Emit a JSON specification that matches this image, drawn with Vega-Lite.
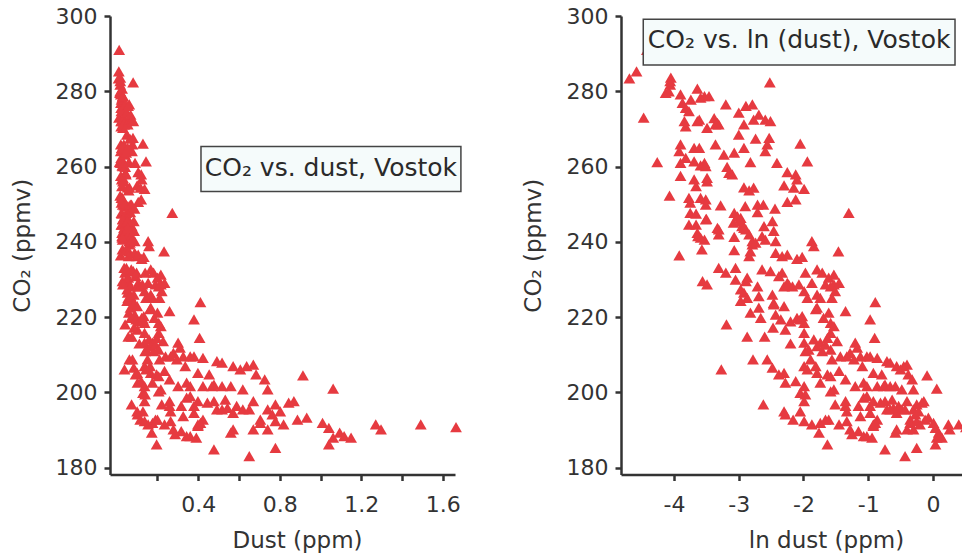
{
  "$schema": "https://vega.github.io/schema/vega-lite/v6.json",
  "background": "white",
  "padding": {"left": 11, "top": 5, "right": 0, "bottom": 0},
  "spacing": 166,
  "bounds": "flush",
  "config": {
    "view": {"stroke": null},
    "font": "DejaVu Sans",
    "axis": {
      "grid": false,
      "domainColor": "#333333", "domainWidth": 2.5,
      "tickColor": "#333333", "tickWidth": 2.5, "tickSize": 6,
      "labelColor": "#333333", "labelFont": "DejaVu Sans", "labelFontSize": 22, "labelPadding": 7,
      "titleColor": "#333333", "titleFont": "DejaVu Sans", "titleFontSize": 23, "titleFontWeight": "normal"
    }
  },
  "datasets": {
    "pts": [
      {"dust":0.0092,"lndust":-4.69,"co2":283.4},{"dust":0.0103,"lndust":-4.58,"co2":285.3},{"dust":0.0114,"lndust":-4.47,"co2":273.0},
      {"dust":0.0141,"lndust":-4.26,"co2":261.2},{"dust":0.0171,"lndust":-4.07,"co2":252.3},{"dust":0.0161,"lndust":-4.13,"co2":279.6},
      {"dust":0.0169,"lndust":-4.08,"co2":280.0},{"dust":0.0173,"lndust":-4.06,"co2":281.8},{"dust":0.0174,"lndust":-4.05,"co2":283.6},
      {"dust":0.0173,"lndust":-4.06,"co2":282.7},{"dust":0.0202,"lndust":-3.90,"co2":279.2},{"dust":0.0209,"lndust":-3.87,"co2":276.9},
      {"dust":0.0219,"lndust":-3.82,"co2":275.6},{"dust":0.0231,"lndust":-3.77,"co2":274.7},{"dust":0.0238,"lndust":-3.74,"co2":277.8},
      {"dust":0.0263,"lndust":-3.64,"co2":280.7},{"dust":0.0276,"lndust":-3.59,"co2":278.3},{"dust":0.0293,"lndust":-3.53,"co2":278.7},
      {"dust":0.0314,"lndust":-3.46,"co2":278.7},{"dust":0.0215,"lndust":-3.84,"co2":272.1},{"dust":0.0219,"lndust":-3.82,"co2":270.7},
      {"dust":0.0263,"lndust":-3.64,"co2":272.1},{"dust":0.0270,"lndust":-3.61,"co2":272.5},{"dust":0.0305,"lndust":-3.49,"co2":270.3},
      {"dust":0.0340,"lndust":-3.38,"co2":272.9},{"dust":0.0347,"lndust":-3.36,"co2":271.2},{"dust":0.0365,"lndust":-3.31,"co2":271.2},
      {"dust":0.0358,"lndust":-3.33,"co2":271.6},{"dust":0.0408,"lndust":-3.20,"co2":276.5},{"dust":0.0498,"lndust":-3.00,"co2":274.3},
      {"dust":0.0539,"lndust":-2.92,"co2":271.2},{"dust":0.0556,"lndust":-2.89,"co2":276.1},{"dust":0.0614,"lndust":-2.79,"co2":276.5},
      {"dust":0.0627,"lndust":-2.77,"co2":272.5},{"dust":0.0679,"lndust":-2.69,"co2":273.8},{"dust":0.0750,"lndust":-2.59,"co2":272.5},
      {"dust":0.0813,"lndust":-2.51,"co2":272.1},{"dust":0.0498,"lndust":-3.00,"co2":268.5},{"dust":0.0805,"lndust":-2.52,"co2":282.4},
      {"dust":0.0646,"lndust":-2.74,"co2":267.4},{"dust":0.0773,"lndust":-2.56,"co2":265.9},{"dust":0.0797,"lndust":-2.53,"co2":267.6},
      {"dust":0.0750,"lndust":-2.59,"co2":264.1},{"dust":0.0202,"lndust":-3.90,"co2":265.9},{"dust":0.0198,"lndust":-3.92,"co2":264.1},
      {"dust":0.0202,"lndust":-3.90,"co2":261.0},{"dust":0.0219,"lndust":-3.82,"co2":262.3},{"dust":0.0250,"lndust":-3.69,"co2":265.0},
      {"dust":0.0270,"lndust":-3.61,"co2":265.0},{"dust":0.0250,"lndust":-3.69,"co2":261.4},{"dust":0.0276,"lndust":-3.59,"co2":260.3},
      {"dust":0.0293,"lndust":-3.53,"co2":261.0},{"dust":0.0299,"lndust":-3.51,"co2":260.1},{"dust":0.0347,"lndust":-3.36,"co2":265.9},
      {"dust":0.0396,"lndust":-3.23,"co2":263.2},{"dust":0.0464,"lndust":-3.07,"co2":263.7},{"dust":0.0539,"lndust":-2.92,"co2":265.0},
      {"dust":0.0596,"lndust":-2.82,"co2":261.2},{"dust":0.0898,"lndust":-2.41,"co2":261.0},{"dust":0.1287,"lndust":-2.05,"co2":266.1},
      {"dust":0.1437,"lndust":-1.94,"co2":261.4},{"dust":0.0416,"lndust":-3.18,"co2":259.9},{"dust":0.0429,"lndust":-3.15,"co2":258.3},
      {"dust":0.0450,"lndust":-3.10,"co2":257.9},{"dust":0.0202,"lndust":-3.90,"co2":257.5},{"dust":0.0250,"lndust":-3.69,"co2":256.6},
      {"dust":0.0257,"lndust":-3.66,"co2":254.8},{"dust":0.0305,"lndust":-3.49,"co2":257.0},{"dust":0.0305,"lndust":-3.49,"co2":256.1},
      {"dust":0.0539,"lndust":-2.92,"co2":254.5},{"dust":0.0584,"lndust":-2.84,"co2":253.7},{"dust":0.0627,"lndust":-2.77,"co2":254.4},
      {"dust":0.1003,"lndust":-2.30,"co2":255.0},{"dust":0.1054,"lndust":-2.25,"co2":258.5},{"dust":0.1200,"lndust":-2.12,"co2":257.9},
      {"dust":0.1225,"lndust":-2.10,"co2":256.6},{"dust":0.1165,"lndust":-2.15,"co2":254.4},{"dust":0.1367,"lndust":-1.99,"co2":254.1},
      {"dust":0.1054,"lndust":-2.25,"co2":250.6},{"dust":0.1200,"lndust":-2.12,"co2":251.3},{"dust":0.0231,"lndust":-3.77,"co2":251.7},
      {"dust":0.0235,"lndust":-3.75,"co2":250.4},{"dust":0.0276,"lndust":-3.59,"co2":251.7},{"dust":0.0299,"lndust":-3.51,"co2":251.3},
      {"dust":0.0299,"lndust":-3.51,"co2":249.9},{"dust":0.0376,"lndust":-3.28,"co2":249.7},{"dust":0.0550,"lndust":-2.90,"co2":249.5},
      {"dust":0.0665,"lndust":-2.71,"co2":249.9},{"dust":0.0728,"lndust":-2.62,"co2":249.9},{"dust":0.0665,"lndust":-2.71,"co2":247.9},
      {"dust":0.0872,"lndust":-2.44,"co2":248.8},{"dust":0.0235,"lndust":-3.75,"co2":247.7},{"dust":0.0257,"lndust":-3.66,"co2":247.5},
      {"dust":0.0302,"lndust":-3.50,"co2":246.1},{"dust":0.0464,"lndust":-3.07,"co2":247.7},{"dust":0.0488,"lndust":-3.02,"co2":246.8},
      {"dust":0.0513,"lndust":-2.97,"co2":246.4},{"dust":0.2725,"lndust":-1.30,"co2":247.7},
      {"dust":0.0231,"lndust":-3.77,"co2":244.6},{"dust":0.0257,"lndust":-3.66,"co2":244.6},{"dust":0.0263,"lndust":-3.64,"co2":242.4},
      {"dust":0.0265,"lndust":-3.63,"co2":241.5},{"dust":0.0293,"lndust":-3.53,"co2":240.6},{"dust":0.0365,"lndust":-3.31,"co2":243.3},
      {"dust":0.0358,"lndust":-3.33,"co2":243.7},{"dust":0.0365,"lndust":-3.31,"co2":242.0},{"dust":0.0460,"lndust":-3.08,"co2":245.1},
      {"dust":0.0464,"lndust":-3.07,"co2":241.3},{"dust":0.0523,"lndust":-2.95,"co2":244.2},{"dust":0.0556,"lndust":-2.89,"co2":243.3},
      {"dust":0.0584,"lndust":-2.84,"co2":242.0},{"dust":0.0614,"lndust":-2.79,"co2":240.2},{"dust":0.0614,"lndust":-2.79,"co2":239.3},
      {"dust":0.0646,"lndust":-2.74,"co2":239.8},{"dust":0.0735,"lndust":-2.61,"co2":244.2},{"dust":0.0714,"lndust":-2.64,"co2":241.5},
      {"dust":0.0750,"lndust":-2.59,"co2":240.6},{"dust":0.0837,"lndust":-2.48,"co2":245.5},{"dust":0.0854,"lndust":-2.46,"co2":242.9},
      {"dust":0.0880,"lndust":-2.43,"co2":240.2},{"dust":0.0880,"lndust":-2.43,"co2":237.1},{"dust":0.0973,"lndust":-2.33,"co2":236.2},
      {"dust":0.1054,"lndust":-2.25,"co2":236.6},{"dust":0.1225,"lndust":-2.10,"co2":235.5},{"dust":0.1327,"lndust":-2.02,"co2":236.0},
      {"dust":0.1541,"lndust":-1.87,"co2":240.2},{"dust":0.1588,"lndust":-1.84,"co2":238.9},{"dust":0.2322,"lndust":-1.46,"co2":237.5},
      {"dust":0.0282,"lndust":-3.57,"co2":238.0},{"dust":0.0198,"lndust":-3.92,"co2":236.4},{"dust":0.0464,"lndust":-3.07,"co2":237.8},
      {"dust":0.0596,"lndust":-2.82,"co2":237.5},{"dust":0.0584,"lndust":-2.84,"co2":236.2},{"dust":0.0299,"lndust":-3.51,"co2":246.0},
      {"dust":0.0513,"lndust":-2.97,"co2":245.5},{"dust":0.0539,"lndust":-2.92,"co2":243.7},{"dust":0.0276,"lndust":-3.59,"co2":241.1},
      {"dust":0.0365,"lndust":-3.31,"co2":233.1},{"dust":0.0408,"lndust":-3.20,"co2":231.8},{"dust":0.0474,"lndust":-3.05,"co2":233.1},
      {"dust":0.0474,"lndust":-3.05,"co2":230.0},{"dust":0.0556,"lndust":-2.89,"co2":229.6},{"dust":0.0567,"lndust":-2.87,"co2":230.5},
      {"dust":0.0513,"lndust":-2.97,"co2":227.4},{"dust":0.0539,"lndust":-2.92,"co2":226.5},{"dust":0.0513,"lndust":-2.97,"co2":224.3},
      {"dust":0.0567,"lndust":-2.87,"co2":225.1},{"dust":0.0665,"lndust":-2.71,"co2":228.2},{"dust":0.0679,"lndust":-2.69,"co2":225.6},
      {"dust":0.0714,"lndust":-2.64,"co2":232.7},{"dust":0.0813,"lndust":-2.51,"co2":232.2},{"dust":0.0837,"lndust":-2.48,"co2":226.0},
      {"dust":0.0854,"lndust":-2.46,"co2":223.8},{"dust":0.0926,"lndust":-2.38,"co2":230.9},{"dust":0.0973,"lndust":-2.33,"co2":231.8},
      {"dust":0.1003,"lndust":-2.30,"co2":228.2},{"dust":0.1054,"lndust":-2.25,"co2":229.1},{"dust":0.1075,"lndust":-2.23,"co2":228.7},
      {"dust":0.1142,"lndust":-2.17,"co2":228.2},{"dust":0.1262,"lndust":-2.07,"co2":228.7},{"dust":0.1395,"lndust":-1.97,"co2":231.8},
      {"dust":0.1367,"lndust":-1.99,"co2":226.9},{"dust":0.1437,"lndust":-1.94,"co2":225.1},{"dust":0.1541,"lndust":-1.87,"co2":229.1},
      {"dust":0.1670,"lndust":-1.79,"co2":232.7},{"dust":0.1670,"lndust":-1.79,"co2":226.0},{"dust":0.1755,"lndust":-1.74,"co2":225.1},
      {"dust":0.1809,"lndust":-1.71,"co2":231.8},{"dust":0.1901,"lndust":-1.66,"co2":228.7},{"dust":0.1999,"lndust":-1.61,"co2":230.5},
      {"dust":0.2060,"lndust":-1.58,"co2":228.2},{"dust":0.2165,"lndust":-1.53,"co2":231.3},{"dust":0.2165,"lndust":-1.53,"co2":228.7},
      {"dust":0.2209,"lndust":-1.51,"co2":226.9},{"dust":0.2346,"lndust":-1.45,"co2":229.1},{"dust":0.2101,"lndust":-1.56,"co2":225.1},
      {"dust":0.0284,"lndust":-3.56,"co2":229.6},{"dust":0.0305,"lndust":-3.49,"co2":228.7},
      {"dust":0.0596,"lndust":-2.82,"co2":221.2},{"dust":0.0679,"lndust":-2.69,"co2":222.5},{"dust":0.0699,"lndust":-2.66,"co2":219.8},
      {"dust":0.0854,"lndust":-2.46,"co2":223.4},{"dust":0.0880,"lndust":-2.43,"co2":220.7},{"dust":0.0954,"lndust":-2.35,"co2":219.4},
      {"dust":0.1003,"lndust":-2.30,"co2":222.9},{"dust":0.1023,"lndust":-2.28,"co2":216.7},{"dust":0.1108,"lndust":-2.20,"co2":218.9},
      {"dust":0.1225,"lndust":-2.10,"co2":219.8},{"dust":0.1287,"lndust":-2.05,"co2":219.4},{"dust":0.1327,"lndust":-2.02,"co2":220.3},
      {"dust":0.1367,"lndust":-1.99,"co2":218.5},{"dust":0.1367,"lndust":-1.99,"co2":215.8},{"dust":0.1637,"lndust":-1.81,"co2":222.1},
      {"dust":0.1670,"lndust":-1.79,"co2":222.5},{"dust":0.1845,"lndust":-1.69,"co2":219.8},{"dust":0.1999,"lndust":-1.61,"co2":221.2},
      {"dust":0.2060,"lndust":-1.58,"co2":218.5},{"dust":0.2165,"lndust":-1.53,"co2":217.6},{"dust":0.2060,"lndust":-1.58,"co2":215.8},
      {"dust":0.2592,"lndust":-1.35,"co2":221.6},{"dust":0.3791,"lndust":-0.97,"co2":219.4},{"dust":0.4107,"lndust":-0.89,"co2":224.0},
      {"dust":0.4066,"lndust":-0.90,"co2":214.5},{"dust":0.0412,"lndust":-3.19,"co2":218.1},{"dust":0.0567,"lndust":-2.87,"co2":214.8},
      {"dust":0.0743,"lndust":-2.60,"co2":214.8},{"dust":0.0846,"lndust":-2.47,"co2":217.2},{"dust":0.1108,"lndust":-2.20,"co2":213.0},
      {"dust":0.1367,"lndust":-1.99,"co2":213.2},{"dust":0.1395,"lndust":-1.97,"co2":211.0},{"dust":0.1466,"lndust":-1.92,"co2":211.4},
      {"dust":0.1511,"lndust":-1.89,"co2":208.8},{"dust":0.1588,"lndust":-1.84,"co2":214.1},{"dust":0.1670,"lndust":-1.79,"co2":212.3},
      {"dust":0.1755,"lndust":-1.74,"co2":213.2},{"dust":0.1809,"lndust":-1.71,"co2":211.0},{"dust":0.1901,"lndust":-1.66,"co2":212.7},
      {"dust":0.1959,"lndust":-1.63,"co2":214.5},{"dust":0.2060,"lndust":-1.58,"co2":211.4},{"dust":0.2101,"lndust":-1.56,"co2":208.8},
      {"dust":0.2276,"lndust":-1.48,"co2":213.6},{"dust":0.2393,"lndust":-1.43,"co2":209.6},{"dust":0.2645,"lndust":-1.33,"co2":209.6},
      {"dust":0.2780,"lndust":-1.28,"co2":210.5},{"dust":0.2952,"lndust":-1.22,"co2":208.8},{"dust":0.3012,"lndust":-1.20,"co2":213.2},
      {"dust":0.3104,"lndust":-1.17,"co2":211.9},{"dust":0.3263,"lndust":-1.12,"co2":209.6},{"dust":0.3362,"lndust":-1.09,"co2":207.0},
      {"dust":0.3606,"lndust":-1.02,"co2":209.6},{"dust":0.3791,"lndust":-0.97,"co2":209.6},{"dust":0.4232,"lndust":-0.86,"co2":209.2},
      {"dust":0.3985,"lndust":-0.92,"co2":205.2},{"dust":0.4538,"lndust":-0.79,"co2":204.8},{"dust":0.4677,"lndust":-0.76,"co2":201.7},
      {"dust":0.4916,"lndust":-0.71,"co2":208.3},{"dust":0.5169,"lndust":-0.66,"co2":207.9},{"dust":0.5712,"lndust":-0.56,"co2":207.0},
      {"dust":0.6065,"lndust":-0.50,"co2":206.1},{"dust":0.6376,"lndust":-0.45,"co2":207.0},{"dust":0.6703,"lndust":-0.40,"co2":207.4},
      {"dust":0.6839,"lndust":-0.38,"co2":204.8},{"dust":0.7261,"lndust":-0.32,"co2":203.5},{"dust":0.7408,"lndust":-0.30,"co2":200.8},
      {"dust":0.9139,"lndust":-0.09,"co2":204.5},{"dust":1.062,"lndust":0.06,"co2":201.0},{"dust":0.1367,"lndust":-1.99,"co2":207.0},
      {"dust":0.1437,"lndust":-1.94,"co2":206.1},{"dust":0.1637,"lndust":-1.81,"co2":207.0},{"dust":0.1670,"lndust":-1.79,"co2":205.2},
      {"dust":0.1755,"lndust":-1.74,"co2":202.6},{"dust":0.1959,"lndust":-1.63,"co2":204.8},{"dust":0.2060,"lndust":-1.58,"co2":204.3},
      {"dust":0.2346,"lndust":-1.45,"co2":205.7},{"dust":0.2592,"lndust":-1.35,"co2":203.5},{"dust":0.3012,"lndust":-1.20,"co2":201.7},
      {"dust":0.3430,"lndust":-1.07,"co2":202.6},{"dust":0.3606,"lndust":-1.02,"co2":201.7},{"dust":0.4232,"lndust":-0.86,"co2":201.7},
      {"dust":0.4771,"lndust":-0.74,"co2":202.1},{"dust":0.5169,"lndust":-0.66,"co2":201.7},{"dust":0.5599,"lndust":-0.58,"co2":201.7},
      {"dust":0.6188,"lndust":-0.48,"co2":200.8},{"dust":0.0620,"lndust":-2.78,"co2":208.8},{"dust":0.0773,"lndust":-2.56,"co2":208.8},
      {"dust":0.0837,"lndust":-2.48,"co2":206.6},{"dust":0.0926,"lndust":-2.38,"co2":204.8},{"dust":0.1003,"lndust":-2.30,"co2":205.2},
      {"dust":0.1023,"lndust":-2.28,"co2":202.6},{"dust":0.1200,"lndust":-2.12,"co2":203.0},{"dust":0.1367,"lndust":-1.99,"co2":201.7},
      {"dust":0.0380,"lndust":-3.27,"co2":206.1},
      {"dust":0.1287,"lndust":-2.05,"co2":195.0},{"dust":0.1367,"lndust":-1.99,"co2":197.7},{"dust":0.1287,"lndust":-2.05,"co2":199.9},
      {"dust":0.1395,"lndust":-1.97,"co2":199.5},{"dust":0.2060,"lndust":-1.58,"co2":200.3},{"dust":0.2165,"lndust":-1.53,"co2":200.8},
      {"dust":0.2209,"lndust":-1.51,"co2":196.8},{"dust":0.2592,"lndust":-1.35,"co2":197.7},{"dust":0.2645,"lndust":-1.33,"co2":195.0},
      {"dust":0.3166,"lndust":-1.15,"co2":196.4},{"dust":0.3263,"lndust":-1.12,"co2":193.7},{"dust":0.3430,"lndust":-1.07,"co2":198.6},
      {"dust":0.3606,"lndust":-1.02,"co2":199.0},{"dust":0.3791,"lndust":-0.97,"co2":196.4},{"dust":0.3791,"lndust":-0.97,"co2":194.6},
      {"dust":0.3985,"lndust":-0.92,"co2":197.7},{"dust":0.4232,"lndust":-0.86,"co2":192.8},{"dust":0.3985,"lndust":-0.92,"co2":191.5},
      {"dust":0.4449,"lndust":-0.81,"co2":197.3},{"dust":0.4771,"lndust":-0.74,"co2":197.7},{"dust":0.4916,"lndust":-0.71,"co2":195.5},
      {"dust":0.5169,"lndust":-0.66,"co2":195.5},{"dust":0.5326,"lndust":-0.63,"co2":198.1},{"dust":0.5434,"lndust":-0.61,"co2":195.9},
      {"dust":0.5712,"lndust":-0.56,"co2":194.6},{"dust":0.5886,"lndust":-0.53,"co2":196.4},{"dust":0.6188,"lndust":-0.48,"co2":195.5},
      {"dust":0.6505,"lndust":-0.43,"co2":195.5},{"dust":0.6703,"lndust":-0.40,"co2":197.7},{"dust":0.7047,"lndust":-0.35,"co2":192.8},
      {"dust":0.7408,"lndust":-0.30,"co2":195.5},{"dust":0.7634,"lndust":-0.27,"co2":194.2},{"dust":0.7788,"lndust":-0.25,"co2":196.8},
      {"dust":0.8025,"lndust":-0.22,"co2":195.0},{"dust":0.8437,"lndust":-0.17,"co2":197.3},{"dust":0.8694,"lndust":-0.14,"co2":197.7},
      {"dust":0.8869,"lndust":-0.12,"co2":192.8},{"dust":0.9324,"lndust":-0.07,"co2":193.3},{"dust":1.010,"lndust":0.01,"co2":191.9},
      {"dust":1.041,"lndust":0.04,"co2":190.6},{"dust":1.094,"lndust":0.09,"co2":189.3},{"dust":1.062,"lndust":0.06,"co2":188.0},
      {"dust":1.116,"lndust":0.11,"co2":188.4},{"dust":1.271,"lndust":0.24,"co2":191.5},{"dust":1.492,"lndust":0.40,"co2":191.5},
      {"dust":1.041,"lndust":0.04,"co2":186.2},{"dust":0.7788,"lndust":-0.25,"co2":185.3},{"dust":0.6505,"lndust":-0.43,"co2":183.1},
      {"dust":0.4771,"lndust":-0.74,"co2":184.9},{"dust":0.5599,"lndust":-0.58,"co2":189.3},{"dust":0.5712,"lndust":-0.56,"co2":190.2},
      {"dust":0.6703,"lndust":-0.40,"co2":190.2},{"dust":0.7047,"lndust":-0.35,"co2":191.9},{"dust":0.7408,"lndust":-0.30,"co2":190.2},
      {"dust":0.7788,"lndust":-0.25,"co2":192.4},{"dust":0.8187,"lndust":-0.20,"co2":191.5},{"dust":0.2780,"lndust":-1.28,"co2":190.2},
      {"dust":0.2865,"lndust":-1.25,"co2":188.9},{"dust":0.3166,"lndust":-1.15,"co2":189.7},{"dust":0.3430,"lndust":-1.07,"co2":188.4},
      {"dust":0.3606,"lndust":-1.02,"co2":188.4},{"dust":0.3906,"lndust":-0.94,"co2":188.0},{"dust":0.3985,"lndust":-0.92,"co2":191.1},
      {"dust":0.4107,"lndust":-0.89,"co2":191.9},{"dust":0.1755,"lndust":-1.74,"co2":191.9},{"dust":0.1901,"lndust":-1.66,"co2":192.8},
      {"dust":0.1999,"lndust":-1.61,"co2":192.8},{"dust":0.2346,"lndust":-1.45,"co2":191.5},{"dust":0.2592,"lndust":-1.35,"co2":196.4},
      {"dust":0.2645,"lndust":-1.33,"co2":192.4},{"dust":0.1720,"lndust":-1.76,"co2":189.3},{"dust":0.1959,"lndust":-1.63,"co2":186.2},
      {"dust":0.1003,"lndust":-2.30,"co2":195.0},{"dust":0.1023,"lndust":-2.28,"co2":194.2},{"dust":0.1153,"lndust":-2.16,"co2":192.8},
      {"dust":0.1367,"lndust":-1.99,"co2":192.4},{"dust":0.1541,"lndust":-1.87,"co2":191.5},{"dust":0.0728,"lndust":-2.62,"co2":196.8},
      {"dust":1.150,"lndust":0.14,"co2":188.0},{"dust":1.297,"lndust":0.26,"co2":190.2},{"dust":1.665,"lndust":0.51,"co2":190.8},
      {"dust":0.0120,"lndust":-4.42,"co2":291.0}
    ]
  },
  "hconcat": [
    {
      "width": 345,
      "height": 458.5,
      "encoding": {
        "x": {"field": "dust", "type": "quantitative",
              "scale": {"domain": [-0.033, 1.66], "nice": false, "zero": false},
              "axis": {"title": "Dust (ppm)", "values": [0.2, 0.4, 0.6, 0.8, 1.0, 1.2, 1.4, 1.6], "format": ".1f",
                       "labelExpr": "indexof([0.4, 0.8, 1.2, 1.6], datum.value) >= 0 ? datum.label : ''",
                       "labelPadding": 14, "titlePadding": 14, "titleX": 187}},
        "y": {"field": "co2", "type": "quantitative",
              "scale": {"domain": [178.2, 300], "nice": false, "zero": false},
              "axis": {"title": "CO₂ (ppmv)", "values": [180, 200, 220, 240, 260, 280, 300], "titlePadding": 21}}
      },
      "layer": [
        {"data": {"name": "pts"},
         "mark": {"type": "point", "shape": "triangle-up", "filled": true, "size": 140, "color": "#e63a40", "opacity": 1}},
        {"data": {"values": [{"dust": 0.4135, "dust2": 1.689, "co2": 265.3, "co22": 253.4}]},
         "mark": {"type": "rect", "fill": "#f5fbfb", "stroke": "#444444", "strokeWidth": 1.5},
         "encoding": {"x2": {"field": "dust2"}, "y2": {"field": "co22"}}},
        {"data": {"values": [{"dust": 1.051, "co2": 259.5, "t": "CO₂ vs. dust, Vostok"}]},
         "mark": {"type": "text", "font": "DejaVu Sans", "fontSize": 25, "color": "#2a2a2a", "align": "center", "baseline": "middle"},
         "encoding": {"text": {"field": "t"}}}
      ]
    },
    {
      "width": 341,
      "height": 458.5,
      "encoding": {
        "x": {"field": "lndust", "type": "quantitative",
              "scale": {"domain": [-4.82, 0.45], "nice": false, "zero": false},
              "axis": {"title": "ln dust (ppm)", "values": [-4, -3, -2, -1, 0],
                       "labelExpr": "datum.value == 0 ? '0' : '-' + abs(datum.value)",
                       "labelPadding": 14, "titlePadding": 14, "titleX": 205}},
        "y": {"field": "co2", "type": "quantitative",
              "scale": {"domain": [178.2, 300], "nice": false, "zero": false},
              "axis": {"title": "CO₂ (ppmv)", "values": [180, 200, 220, 240, 260, 280, 300], "titlePadding": 21}}
      },
      "layer": [
        {"data": {"name": "pts"},
         "mark": {"type": "point", "shape": "triangle-up", "filled": true, "size": 140, "color": "#e63a40", "opacity": 1, "clip": true}},
        {"data": {"values": [{"lndust": -4.476, "lndust2": 0.342, "co2": 299.15, "co22": 287.0}]},
         "mark": {"type": "rect", "fill": "#f5fbfb", "stroke": "#444444", "strokeWidth": 1.5},
         "encoding": {"x2": {"field": "lndust2"}, "y2": {"field": "co22"}}},
        {"data": {"values": [{"lndust": -2.067, "co2": 293.5, "t": "CO₂ vs. ln (dust), Vostok"}]},
         "mark": {"type": "text", "font": "DejaVu Sans", "fontSize": 25, "color": "#2a2a2a", "align": "center", "baseline": "middle"},
         "encoding": {"text": {"field": "t"}}}
      ]
    }
  ]
}
